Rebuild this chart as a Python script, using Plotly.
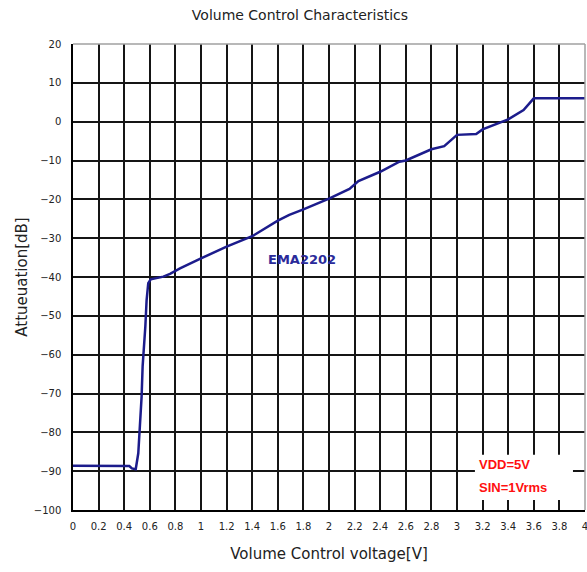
import plotly.graph_objects as go

voltage = [0, 0.1, 0.2, 0.3, 0.4, 0.44, 0.46, 0.49, 0.51, 0.523, 0.536, 0.544, 0.555,
           0.565, 0.575, 0.588, 0.607, 0.654, 0.706, 0.758, 0.836, 1.0, 1.2, 1.4, 1.6,
           1.69, 1.8, 2.0, 2.16, 2.23, 2.4, 2.55, 2.6, 2.8, 2.9, 3.0, 3.15, 3.2, 3.4,
           3.52, 3.6, 3.8, 4.0]
attenuation = [-88.6, -88.6, -88.6, -88.6, -88.6, -88.7, -89.3, -89.5, -85.4, -78.5, -70.8,
               -63.0, -58.8, -52.8, -46.0, -41.6, -40.6, -40.3, -39.9, -39.2, -37.8, -35.2,
               -32.2, -29.5, -25.5, -24.0, -22.6, -19.8, -17.3, -15.3, -12.9, -10.3, -10.0,
               -7.1, -6.3, -3.4, -3.2, -2.0, 0.6, 3.0, 6.0, 6.0, 6.0]

x_tickvals = [0, 0.2, 0.4, 0.6, 0.8, 1, 1.2, 1.4, 1.6, 1.8, 2, 2.2, 2.4, 2.6, 2.8, 3,
              3.2, 3.4, 3.6, 3.8, 4]
x_ticktext = ["0", "0.2", "0.4", "0.6", "0.8", "1", "1.2", "1.4", "1.6", "1.8", "2",
              "2.2", "2.4", "2.6", "2.8", "3", "3.2", "3.4", "3.6", "3.8", "4"]
y_tickvals = [20, 10, 0, -10, -20, -30, -40, -50, -60, -70, -80, -90, -100]

FONT = "DejaVu Sans"

fig = go.Figure()
fig.add_trace(go.Scatter(x=voltage, y=attenuation, mode="lines",
                         line=dict(color="#1c1c8c", width=2.5), showlegend=False))

fig.update_layout(
    width=587, height=572,
    margin=dict(l=73, r=2, t=44, b=62),
    paper_bgcolor="white", plot_bgcolor="white",
    font=dict(family=FONT, size=11, color="#222"),
    title=dict(text="Volume Control Characteristics", x=0.511, xanchor="center",
               y=0.974, yanchor="middle", font=dict(family=FONT, size=14, color="#222")),
    xaxis=dict(range=[0, 4], tickvals=x_tickvals, ticktext=x_ticktext,
               showgrid=True, gridcolor="#151515", gridwidth=1.5,
               showline=True, linecolor="#000", linewidth=1.5,
               ticks="", ticklabelstandoff=6, zeroline=False, automargin=False,
               ticklabeloverflow="allow",
               tickfont=dict(size=10),
               title=dict(text="Volume Control voltage[V]", standoff=18,
                          font=dict(size=15))),
    yaxis=dict(range=[-100, 20], tickvals=y_tickvals,
               showgrid=True, gridcolor="#151515", gridwidth=1.5,
               showline=True, linecolor="#000", linewidth=1.5,
               ticks="", ticklabelstandoff=8, zeroline=False, automargin=False,
               ticklabeloverflow="allow",
               tickfont=dict(size=10),
               title=dict(text="Attueuation[dB]", standoff=3, font=dict(size=15))),
    shapes=[
        dict(type="line", xref="paper", yref="paper", x0=0, x1=1, y0=1, y1=1,
             line=dict(color="#a0a0a0", width=1.5)),
        dict(type="line", xref="paper", yref="paper", x0=1, x1=1, y0=0, y1=1,
             line=dict(color="#a0a0a0", width=1.5)),
        dict(type="rect", xref="x", yref="y", x0=3.14, x1=3.906, y0=-97.4, y1=-85.8,
             fillcolor="white", line=dict(width=0), layer="above"),
    ],
    annotations=[
        dict(x=1.79, y=-35.4, text="<b>EMA2202</b>", showarrow=False,
             font=dict(family=FONT, size=13, color="#2a2a9a")),
        dict(x=3.156, y=-88.4, text="<b>VDD=5V</b>", showarrow=False, xanchor="left",
             font=dict(family="Liberation Sans", size=13, color="#ff1010")),
        dict(x=3.156, y=-94.3, text="<b>SIN=1Vrms</b>", showarrow=False, xanchor="left",
             font=dict(family="Liberation Sans", size=13, color="#ff1010")),
    ],
)

fig.write_html("out.html",
               config={"displayModeBar": False},
               post_script="document.body.style.margin='0';"
                           "document.body.style.overflow='hidden';")
